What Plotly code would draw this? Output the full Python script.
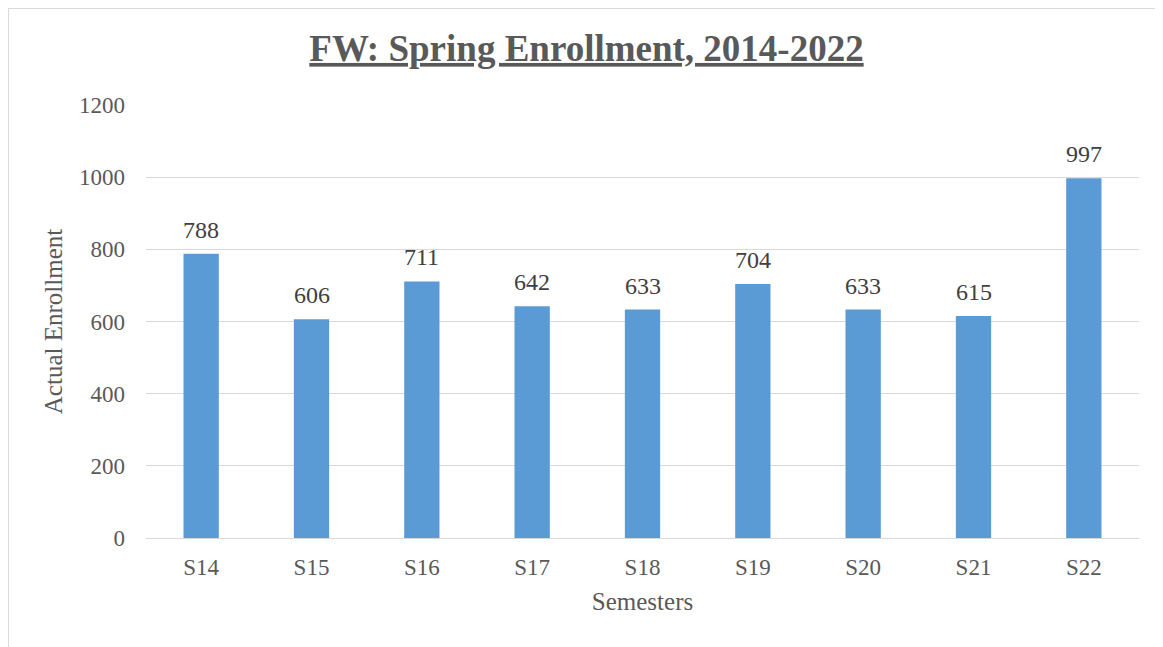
import plotly.graph_objects as go

semesters = ["S14", "S15", "S16", "S17", "S18", "S19", "S20", "S21", "S22"]
enrollment = [788, 606, 711, 642, 633, 704, 633, 615, 997]
y_ticks = [0, 200, 400, 600, 800, 1000, 1200]

FONT = "Liberation Serif, Times New Roman, serif"
W, H = 1163, 647
L, R, T, B = 138, 32, 97, 117
PW, PH = W - L - R, H - T - B

fig = go.Figure(
    go.Bar(
        x=semesters,
        y=enrollment,
        marker=dict(color="#5B9BD5", line=dict(width=0)),
        hoverinfo="x+y",
    )
)

annotations = [
    dict(
        x=s, y=v, xref="x", yref="y",
        text=str(v), showarrow=False,
        yanchor="middle", yshift=24,
        font=dict(family=FONT, size=24, color="#404040"),
    )
    for s, v in zip(semesters, enrollment)
]

fig.update_layout(
    width=W,
    height=H,
    paper_bgcolor="white",
    plot_bgcolor="white",
    margin=dict(l=L, r=R, t=T, b=B),
    bargap=0.68,
    showlegend=False,
    title=dict(
        text="<b><u>FW: Spring Enrollment, 2014-2022</u></b>",
        font=dict(family=FONT, size=37, color="#595959"),
        x=578.5 / W,
        xanchor="center",
        y=1 - 40 / H,
        yanchor="middle",
    ),
    xaxis=dict(
        title=dict(text="Semesters", font=dict(family=FONT, size=25, color="#595959"), standoff=13),
        tickfont=dict(family=FONT, size=23, color="#595959"),
        showline=True,
        linecolor="#d9d9d9",
        linewidth=1,
        ticks="",
        ticklabelstandoff=8,
        showgrid=False,
    ),
    yaxis=dict(
        title=dict(text="Actual Enrollment", font=dict(family=FONT, size=25, color="#595959"), standoff=9),
        tickfont=dict(family=FONT, size=23, color="#595959"),
        range=[0, 1200],
        tickvals=y_ticks,
        ticktext=[str(t) for t in y_ticks],
        showgrid=True,
        gridcolor="#d9d9d9",
        gridwidth=1,
        zeroline=False,
        showline=False,
        ticks="",
        ticklabelstandoff=20,
    ),
    annotations=annotations,
    shapes=[
        dict(
            type="rect",
            xref="paper",
            yref="paper",
            x0=(0.5 - L) / PW,
            x1=(1149 - L) / PW,
            y0=((H - B) - 645) / PH,
            y1=((H - B) - 0.5) / PH,
            line=dict(color="#d9d9d9", width=1),
            layer="below",
        )
    ],
)

fig.write_html("out.html")
